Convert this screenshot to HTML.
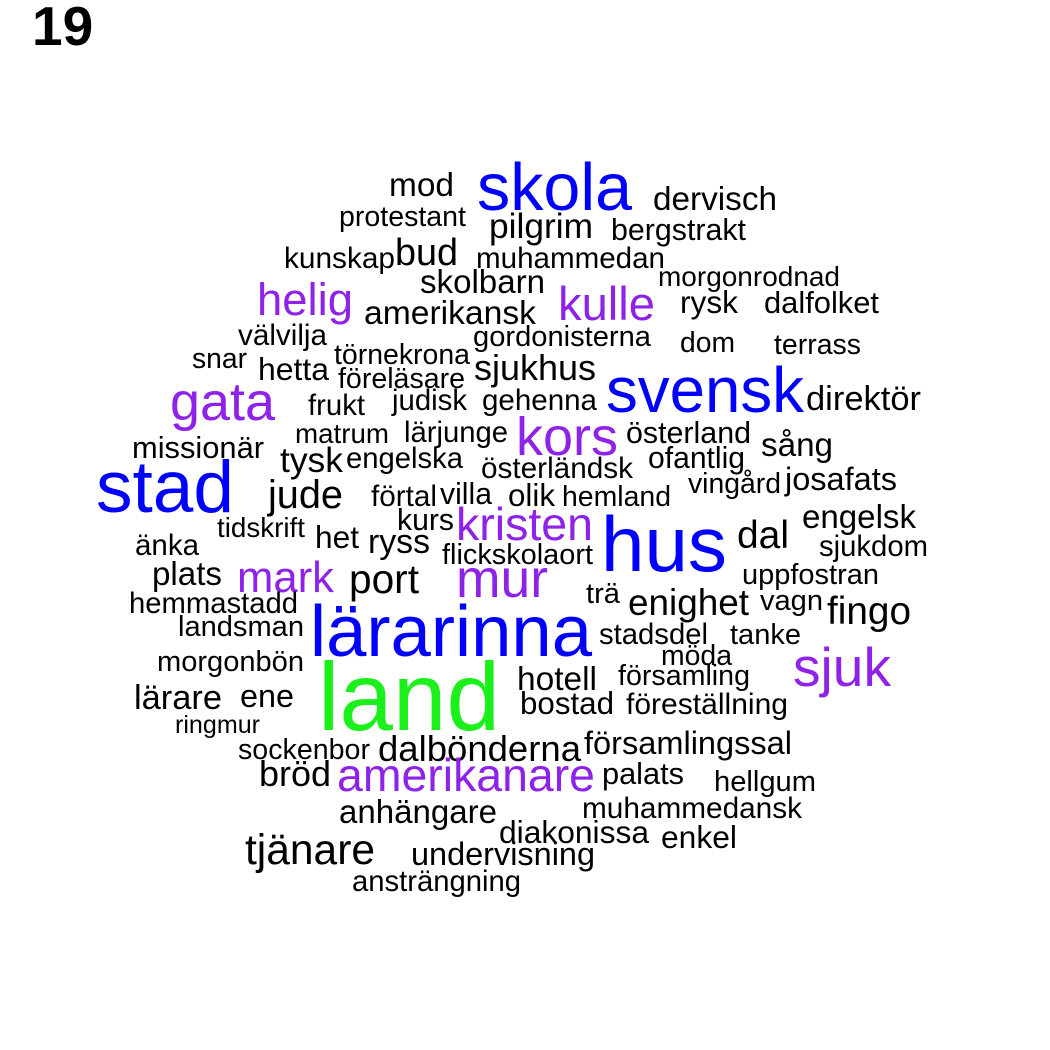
<!DOCTYPE html>
<html><head><meta charset="utf-8"><style>
html,body{margin:0;padding:0;background:#fff;}
svg{display:block;font-family:"Liberation Sans",Arial,sans-serif;}
</style></head><body>
<svg id="cloud" width="1050" height="1050" viewBox="0 0 1050 1050">
<rect width="1050" height="1050" fill="#fff"/>
<text x="32" y="45" font-size="55" font-weight="bold" fill="#000">19</text>
</svg>
<script>
const words=["skola","mod","dervisch","protestant","pilgrim","bergstrakt","kunskap","bud","muhammedan","morgonrodnad","skolbarn","helig","amerikansk","kulle","rysk","dalfolket","välvilja","gordonisterna","dom","terrass","snar","törnekrona","hetta","sjukhus","svensk","föreläsare","gata","frukt","judisk","gehenna","direktör","matrum","lärjunge","kors","österland","sång","missionär","tysk","engelska","österländsk","ofantlig","stad","vingård","josafats","jude","förtal","villa","olik","hemland","tidskrift","kurs","kristen","engelsk","änka","het","ryss","flickskolaort","hus","dal","sjukdom","plats","mark","port","mur","uppfostran","hemmastadd","trä","enighet","vagn","fingo","landsman","lärarinna","stadsdel","tanke","morgonbön","möda","sjuk","församling","hotell","lärare","ene","land","bostad","föreställning","ringmur","sockenbor","dalbönderna","församlingssal","bröd","amerikanare","palats","hellgum","muhammedansk","anhängare","diakonissa","enkel","tjänare","undervisning","ansträngning"];
const x1=[477,389,653,339,489,611,284,395,476,658,420,257,364,558,680,764,238,473,680,774,192,334,258,474,606,338,170,308,392,482,806,295,404,516,626,761,132,280,346,481,648,96,688,785,268,371,440,508,562,217,397,456,802,135,315,368,442,601,737,819,152,237,349,456,742,129,586,628,760,827,178,310,599,730,157,661,793,618,517,134,240,318,520,626,175,238,378,584,259,337,602,714,582,339,499,661,245,411,352];
const x2=[632,454,777,466,593,746,395,458,665,840,545,353,536,655,738,879,327,651,735,861,247,470,329,596,804,465,275,365,467,597,921,389,508,618,751,833,264,343,463,633,745,234,781,897,343,437,492,555,671,305,454,593,916,199,359,430,593,727,789,928,222,334,419,548,879,298,620,749,823,911,304,592,708,801,304,732,891,750,597,222,294,500,614,788,260,370,581,792,331,595,684,816,802,497,649,737,375,595,521];
const base=[210,196,210,226,238,240,268,265,268,286,293,315,324,320,313,313,345,346,352,354,368,364,380,380,412,388,420,415,410,410,410,443,442,455,443,456,458,472,468,478,468,512,493,490,508,506,504,506,506,537,530,540,528,555,548,553,564,571,548,556,585,592,593,597,584,613,603,615,610,624,636,656,644,644,671,665,686,685,690,709,707,730,714,714,733,759,761,754,786,791,784,791,818,823,843,848,864,865,891];
const colorIdx={skola:1,svensk:1,stad:1,hus:1,"lärarinna":1,helig:2,kulle:2,gata:2,kors:2,kristen:2,mark:2,mur:2,sjuk:2,amerikanare:2,land:3};
const palette=["#000000","#0000ff","#8f22e8","#1cf01c"];
const svg=document.getElementById('cloud');
const cv=document.createElement('canvas').getContext('2d');
cv.font='100px "Liberation Sans", Arial, sans-serif';
words.forEach((w,i)=>{
  const width=x2[i]-x1[i];
  const fs=100*width/cv.measureText(w).width;
  const t=document.createElementNS('http://www.w3.org/2000/svg','text');
  t.setAttribute('x',x1[i]);
  t.setAttribute('y',base[i]);
  t.setAttribute('font-size',fs.toFixed(1));
  t.setAttribute('textLength',width);
  t.setAttribute('lengthAdjust','spacingAndGlyphs');
  t.setAttribute('fill',palette[colorIdx[w]||0]);
  
  
  t.textContent=w;
  svg.appendChild(t);
});
</script>
</body></html>
